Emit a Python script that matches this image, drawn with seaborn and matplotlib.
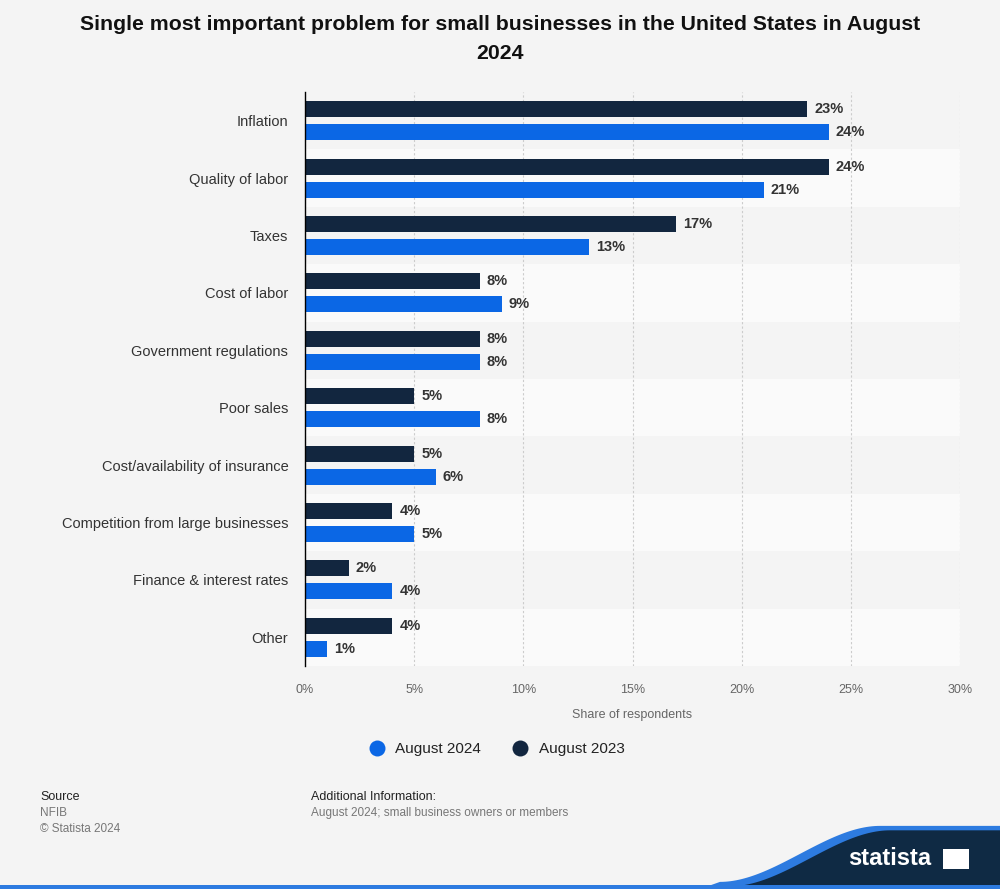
import numpy as np
import pandas as pd
import matplotlib.pyplot as plt
from matplotlib.patches import Polygon, Rectangle
from matplotlib.lines import Line2D
import seaborn as sns

categories = ["Inflation", "Quality of labor", "Taxes", "Cost of labor",
              "Government regulations", "Poor sales", "Cost/availability of insurance",
              "Competition from large businesses", "Finance & interest rates", "Other"]
values_2023 = [23, 24, 17, 8, 8, 5, 5, 4, 2, 4]
values_2024 = [24, 21, 13, 9, 8, 8, 6, 5, 4, 1]
series = ["August 2023", "August 2024"]
x_ticks = [0, 5, 10, 15, 20, 25, 30]

COL_2023 = "#12263f"
COL_2024 = "#0b67e5"
BG = "#f4f4f4"

df = pd.DataFrame({
    "Problem": categories * 2,
    "Share": values_2023 + values_2024,
    "Series": [series[0]] * len(categories) + [series[1]] * len(categories),
})

sns.set_theme(style="white")
plt.rcParams["font.family"] = ["Liberation Sans", "DejaVu Sans"]

fig = plt.figure(figsize=(10, 8.89), dpi=100, facecolor=BG)
ax = fig.add_axes([0.305, 0.2508, 0.655, 0.6457])
ax.set_facecolor(BG)

# alternating row bands
for i in range(len(categories)):
    if i % 2 == 1:
        ax.axhspan(i - 0.5, i + 0.5, color="#fafafa", zorder=0, lw=0)

sns.barplot(data=df, x="Share", y="Problem", hue="Series", order=categories,
            hue_order=series, palette=[COL_2023, COL_2024], orient="h",
            width=0.8, gap=0.3, ax=ax, legend=False, zorder=3, saturation=1,
            linewidth=0)

for cont in ax.containers:
    ax.bar_label(cont, labels=[f"{v:.0f}%" for v in cont.datavalues], padding=5,
                 fontsize=10.5, fontweight="bold", color="#333333")

ax.set_xlim(0, 30)
ax.set_ylim(len(categories) - 0.5, -0.5)
ax.set_xticks(x_ticks)
ax.set_xticklabels([f"{t}%" for t in x_ticks], color="#666666", fontsize=9)
ax.tick_params(axis="x", length=0, pad=13)
ax.tick_params(axis="y", length=0, pad=12, labelsize=10.5, labelcolor="#333333")
ax.grid(axis="x", color="#cccccc", linestyle=(0, (2, 2)), lw=0.8, zorder=1)
ax.set_axisbelow(True)
for s in ["top", "right", "bottom"]:
    ax.spines[s].set_visible(False)
ax.spines["left"].set_color("#000000")
ax.spines["left"].set_linewidth(1.0)
ax.spines["left"].set_zorder(5)
ax.set_ylabel("")
ax.set_xlabel("Share of respondents", color="#666666", fontsize=9, labelpad=9)

fig.text(0.5, 0.983, "Single most important problem for small businesses in the United States in August\n2024",
         ha="center", va="top", fontsize=15.3, fontweight="bold", color="#111111", linespacing=1.65)

handles = [Line2D([0], [0], marker="o", color="none", markerfacecolor=COL_2024,
                  markeredgewidth=0, markersize=11.5),
           Line2D([0], [0], marker="o", color="none", markerfacecolor=COL_2023,
                  markeredgewidth=0, markersize=11.5)]
fig.legend(handles, ["August 2024", "August 2023"], loc="center", bbox_to_anchor=(0.496, 0.157),
           ncol=2, frameon=False, fontsize=11, handletextpad=0.6, columnspacing=2.0,
           handlelength=1.2, labelcolor="#222222")

# footer
fig.text(0.04, 0.104, "Source", fontsize=9, color="#222222", va="center")
fig.text(0.04, 0.086, "NFIB", fontsize=8.5, color="#777777", va="center")
fig.text(0.04, 0.067, "\u00a9 Statista 2024", fontsize=8.5, color="#777777", va="center")
fig.text(0.311, 0.104, "Additional Information:", fontsize=9, color="#222222", va="center")
fig.text(0.311, 0.086, "August 2024; small business owners or members", fontsize=8.5,
         color="#777777", va="center")

# statista wave logo
xs = np.linspace(0.72, 0.88, 60)
t = (xs - 0.72) / 0.16
wave = 0.005 + (0.068 - 0.005) * (3 * t**2 - 2 * t**3)
top_pts = list(zip(xs, wave)) + [(1.0, 0.068)]
poly_blue = Polygon([(0.70, 0.0)] + [(x, y + 0.003) for x, y in top_pts] + [(1.0, 0.0)],
                    closed=True, transform=fig.transFigure, color="#2d7be0", lw=0)
poly_dark = Polygon([(0.73, 0.0)] + [(x + 0.01, y - 0.002) for x, y in top_pts[:-1]] +
                    [(1.0, 0.066), (1.0, 0.0)],
                    closed=True, transform=fig.transFigure, color="#0f2a44", lw=0)
fig.patches.extend([poly_blue, poly_dark])
fig.patches.append(Rectangle((0, 0), 1, 0.004, transform=fig.transFigure, color="#2d7be0", lw=0))
fig.text(0.89, 0.034, "statista", fontsize=17, fontweight="bold", color="white",
         ha="center", va="center")
fig.patches.append(Polygon([(0.943, 0.023), (0.969, 0.023), (0.969, 0.045), (0.943, 0.045)],
                           closed=True, transform=fig.transFigure, color="white", lw=0))

fig.savefig("out.png", dpi=100, facecolor=BG)
